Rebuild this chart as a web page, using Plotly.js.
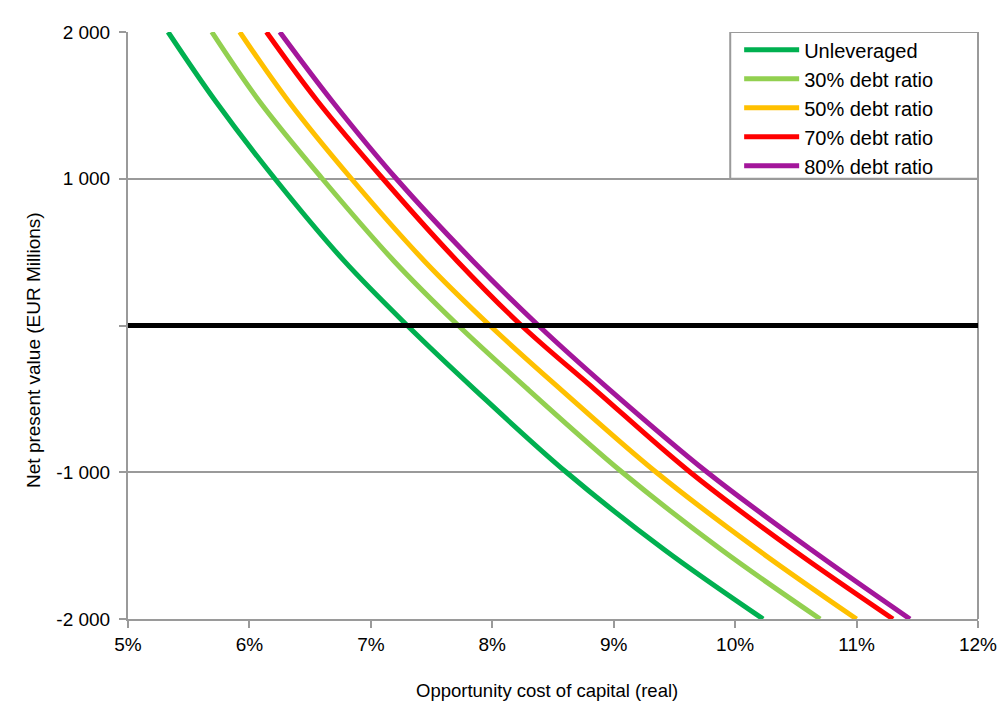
<!DOCTYPE html>
<html>
<head>
<meta charset="utf-8">
<script src="https://cdn.plot.ly/plotly-3.0.1.min.js"></script>
<style>html,body{margin:0;padding:0;background:#fff;}#chart{width:1004px;height:711px;}</style>
</head>
<body>
<div id="chart"></div>
<script>
// NPV levels (EUR millions) at which each curve was read
const npvLevels = [2000, 1530, 1000, 440, 0, -440, -1000, -1530, -2000];
// Opportunity cost of capital (%) for each series at those NPV levels
const unleveraged = [5.33, 5.72, 6.21, 6.78, 7.30, 7.86, 8.61, 9.42, 10.23];
const debt30      = [5.69, 6.08, 6.60, 7.19, 7.72, 8.30, 9.07, 9.89, 10.70];
const debt50      = [5.92, 6.32, 6.84, 7.44, 7.98, 8.57, 9.35, 10.19, 11.00];
const debt70      = [6.14, 6.56, 7.10, 7.71, 8.24, 8.85, 9.63, 10.48, 11.30];
const debt80      = [6.25, 6.68, 7.21, 7.84, 8.38, 8.97, 9.77, 10.63, 11.44];
const seriesNames = ["Unleveraged", "30% debt ratio", "50% debt ratio", "70% debt ratio", "80% debt ratio"];
const seriesColors = ["#00B050", "#92D050", "#FFC000", "#FF0000", "#A3169B"];
const xTickVals = [5, 6, 7, 8, 9, 10, 11, 12];
const xTickText = ["5%", "6%", "7%", "8%", "9%", "10%", "11%", "12%"];
const yTickVals = [-2000, -1000, 0, 1000, 2000];
const yTickText = ["-2 000", "-1 000", "", "1 000", "2 000"];
const xTitle = "Opportunity cost of capital (real)";
const yTitle = "Net present value (EUR Millions)";

const FONT = "'Liberation Sans', Arial, sans-serif";
const seriesX = [unleveraged, debt30, debt50, debt70, debt80];

const traces = seriesX.map((xs, i) => ({
  type: "scatter", mode: "lines",
  x: xs, y: npvLevels,
  name: seriesNames[i],
  line: {color: seriesColors[i], width: 5, shape: "spline", smoothing: 1.0},
  cliponaxis: true
}));

const layout = {
  width: 1004, height: 711,
  margin: {l: 128, r: 26, t: 32, b: 92},
  paper_bgcolor: "#fff", plot_bgcolor: "#fff",
  font: {family: FONT, size: 19, color: "#000"},
  showlegend: true,
  legend: {
    x: 0.719, y: 1.003, xanchor: "left", yanchor: "top",
    bgcolor: "rgba(0,0,0,0)", borderwidth: 0,
    font: {family: FONT, size: 20, color: "#000"},
    tracegroupgap: 0, itemwidth: 55
  },
  xaxis: {
    range: [5, 12], tickvals: xTickVals, ticktext: xTickText,
    showgrid: false, zeroline: false,
    showline: true, linecolor: "#9a9a9a", linewidth: 2, mirror: false,
    ticks: "outside", ticklen: 7, tickwidth: 2, tickcolor: "#9a9a9a",
    ticklabelstandoff: 0,
    tickfont: {family: FONT, size: 19}
  },
  yaxis: {
    range: [-2000, 2000], tickvals: yTickVals, ticktext: yTickText,
    showgrid: true, gridcolor: "#9a9a9a", gridwidth: 2,
    zeroline: false,
    showline: true, linecolor: "#9a9a9a", linewidth: 2,
    ticks: "outside", ticklen: 7, tickwidth: 2, tickcolor: "#9a9a9a",
    ticklabelstandoff: 5,
    tickfont: {family: FONT, size: 19}
  },
  annotations: [
    {text: xTitle, xref: "paper", yref: "paper", x: 0.493, y: -0.122,
     xanchor: "center", yanchor: "middle", showarrow: false,
     font: {family: FONT, size: 18.5, color: "#000"}},
    {text: yTitle, xref: "paper", yref: "paper", x: -0.112, y: 0.458,
     xanchor: "center", yanchor: "middle", showarrow: false, textangle: -90,
     font: {family: FONT, size: 19, color: "#000"}}
  ],
  shapes: [
    {type: "rect", xref: "paper", yref: "y", x0: 0.7085, x1: 1, y0: 1000, y1: 2000,
     line: {color: "#9a9a9a", width: 2}, fillcolor: "#fff", layer: "below"},
    {type: "line", xref: "paper", yref: "paper", x0: 1, x1: 1, y0: 0, y1: 1,
     line: {color: "#9a9a9a", width: 2}, layer: "below"},
    {type: "line", xref: "paper", yref: "y", x0: 0, x1: 1, y0: 0, y1: 0,
     line: {color: "#000", width: 5}, layer: "above"}
  ]
};

Plotly.newPlot("chart", traces, layout, {displayModeBar: false, staticPlot: true});
</script>
</body>
</html>
